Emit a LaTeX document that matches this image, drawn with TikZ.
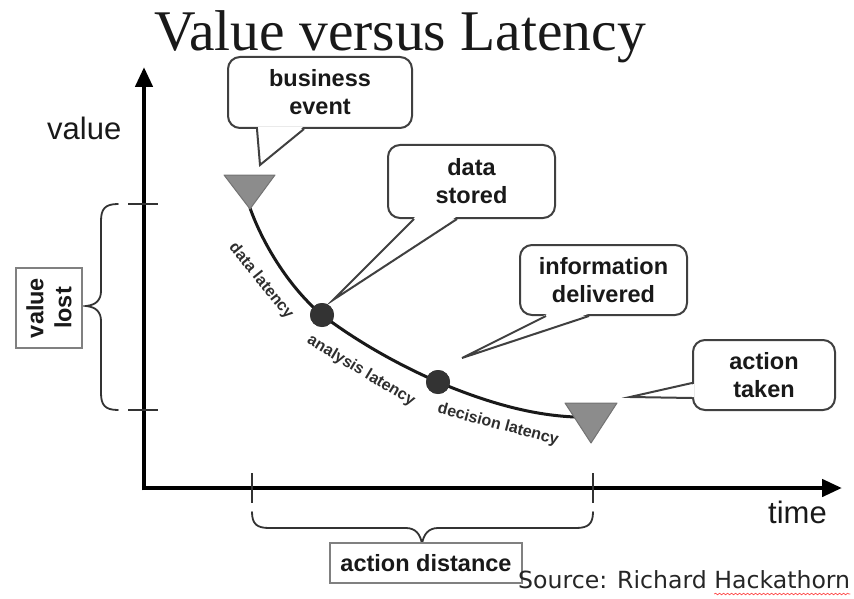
\documentclass[tikz,border=0pt]{standalone}
\usepackage{fontspec}
\setmainfont{Liberation Sans}
\newfontfamily\titlefont{Liberation Serif}
\newfontfamily\srcfont{DejaVu Sans}
\usetikzlibrary{arrows.meta,calc,decorations.pathmorphing}

\begin{document}
\begin{tikzpicture}[x=1pt,y=-1pt,
  axis/.style={line width=4.5pt, -{Triangle[length=20pt,width=17pt]}},
  tickmark/.style={line width=1.6pt, draw=black!80},
  brace/.style={line width=1.8pt, draw=black!80, line cap=round},
  callout/.style={draw=black!75, line width=2pt, rounded corners=12pt, fill=white,
    align=center, inner sep=0pt, text=black!90,
    font=\fontsize{23.5}{28}\selectfont\bfseries},
  tailfill/.style={fill=white},
  tailline/.style={draw=black!75, line width=2pt, line join=miter},
  tag/.style={draw=black!50, line width=1.5pt, align=center, inner sep=0pt, fill=white,
    text=black!90, font=\fontsize{23.5}{28}\selectfont\bfseries},
  marker/.style={fill=black!45, draw=black!55, line width=1pt, line join=round},
  dot/.style={circle, fill=black!80, minimum size=24pt, inner sep=0pt},
  lat/.style={font=\fontsize{16}{16}\selectfont\bfseries, text=black!82, inner sep=0pt},
  axlabel/.style={font=\fontsize{31}{31}\selectfont, text=black!90, inner sep=0pt}
]
\useasboundingbox (0,0) rectangle (854,599);

% title
\node[font=\titlefont\fontsize{57.5}{57.5}\selectfont, anchor=base, text=black!90, inner sep=0pt]
  (title) at (400,51) {Value versus Latency};

% axes
\coordinate (O) at (144,488);
\coordinate (ytop) at (144,67);
\coordinate (xend) at (842,488);
\draw[axis] ($(O)+(0,2.25)$) -- (ytop);
\draw[axis] ($(O)+(-2.25,0)$) -- (xend);

\node[axlabel, anchor=base west] (vlab) at (47,140) {value};
\node[axlabel, anchor=base west] (tlab) at (768,523) {time};

% ticks on the axes
\draw[tickmark] (128,204) -- (158,204);
\draw[tickmark] (128,410) -- (158,410);
\draw[tickmark] (252,473) -- (252,503);
\draw[tickmark] (593,473) -- (593,503);

% brace for the value lost
\draw[brace] (118,204) .. controls (105,204) and (101,209) .. (101,221)
  -- (101,291) .. controls (101,300) and (96,305) .. (86,306)
  .. controls (96,307) and (101,312) .. (101,321)
  -- (101,393) .. controls (101,405) and (105,410) .. (118,410);
\node[tag, rotate=90, minimum width=80pt, minimum height=66pt] (vl) at (49,308) {value\\lost};

% brace for the action distance
\draw[brace] (252,512) .. controls (252,524) and (257,528) .. (269,528)
  -- (406,528) .. controls (415,528) and (421,534) .. (422,545)
  .. controls (423,534) and (429,528) .. (438,528)
  -- (576,528) .. controls (588,528) and (593,524) .. (593,512);
\node[tag, minimum width=192pt, minimum height=40pt] (ad) at (426,563) {action distance};

% latency curve
\coordinate (c0) at (250,208);
\node[dot] (d1) at (322,315) {};
\node[dot] (d2) at (438,382) {};
\coordinate (c3) at (575,417);
\draw[line width=3pt, black!90]
  (c0) .. controls (264,247) and (291,289) .. (d1.center)
       .. controls (358,342) and (397,364) .. (d2.center)
       .. controls (481,400) and (527,415) .. (c3);
\node[dot] at (d1) {};
\node[dot] at (d2) {};

% event markers
\draw[marker] (224,175) -- (275,175) -- (250,209) -- cycle;
\draw[marker] (565,403) -- (617,403) -- (591,443) -- cycle;

% latency labels
\node[lat, rotate=-51] (l1) at (261,281) {data latency};
\node[lat, rotate=-31] (l2) at (361,371) {analysis latency};
\node[lat, rotate=-15] (l3) at (498,425) {decision latency};

% callouts
\node[callout, minimum width=184pt, minimum height=71pt] (be) at (320,92.5) {business\\event};
\coordinate (be-tip) at (260,165);
\fill[tailfill] ($(be.south west)+(31,-2)$) -- (be-tip) -- ($(be.south west)+(76,-2)$) -- cycle;
\draw[tailline] ($(be.south west)+(30,0)$) -- (be-tip) -- ($(be.south west)+(77,0)$);

\node[callout, minimum width=167pt, minimum height=73pt] (ds) at (471.5,181.5) {data\\stored};
\coordinate (ds-tip) at (333,300);
\fill[tailfill] ($(ds.south west)+(28,-2)$) -- (ds-tip) -- ($(ds.south west)+(69,-2)$) -- cycle;
\draw[tailline] ($(ds.south west)+(27,0)$) -- (ds-tip) -- ($(ds.south west)+(70,0)$);

\node[callout, minimum width=167pt, minimum height=70pt] (id) at (603.5,280) {information\\delivered};
\coordinate (id-tip) at (462,358);
\fill[tailfill] ($(id.south west)+(28,-2)$) -- (id-tip) -- ($(id.south west)+(69,-2)$) -- cycle;
\draw[tailline] ($(id.south west)+(27,0)$) -- (id-tip) -- ($(id.south west)+(70,0)$);

\node[callout, minimum width=142pt, minimum height=70pt] (at) at (764,375) {action\\taken};
\coordinate (at-tip) at (630,397);
\fill[tailfill] ($(at.south west)+(2,-27)$) -- (at-tip) -- ($(at.south west)+(2,-14)$) -- cycle;
\draw[tailline] ($(at.south west)+(0,-28)$) -- (at-tip) -- ($(at.south west)+(0,-13)$);

% source line
\node[anchor=base west, inner sep=0pt, text=black!85, font=\srcfont\fontsize{23.6}{23.6}\selectfont]
  (src) at (518,588) {Source: Richard Hackathorn};
\draw[red!70, line width=0.7pt, decorate,
  decoration={snake, segment length=4pt, amplitude=0.8pt}]
  ($(src.base east)+(-136,6)$) -- ($(src.base east)+(0,6)$);
\end{tikzpicture}
\end{document}
